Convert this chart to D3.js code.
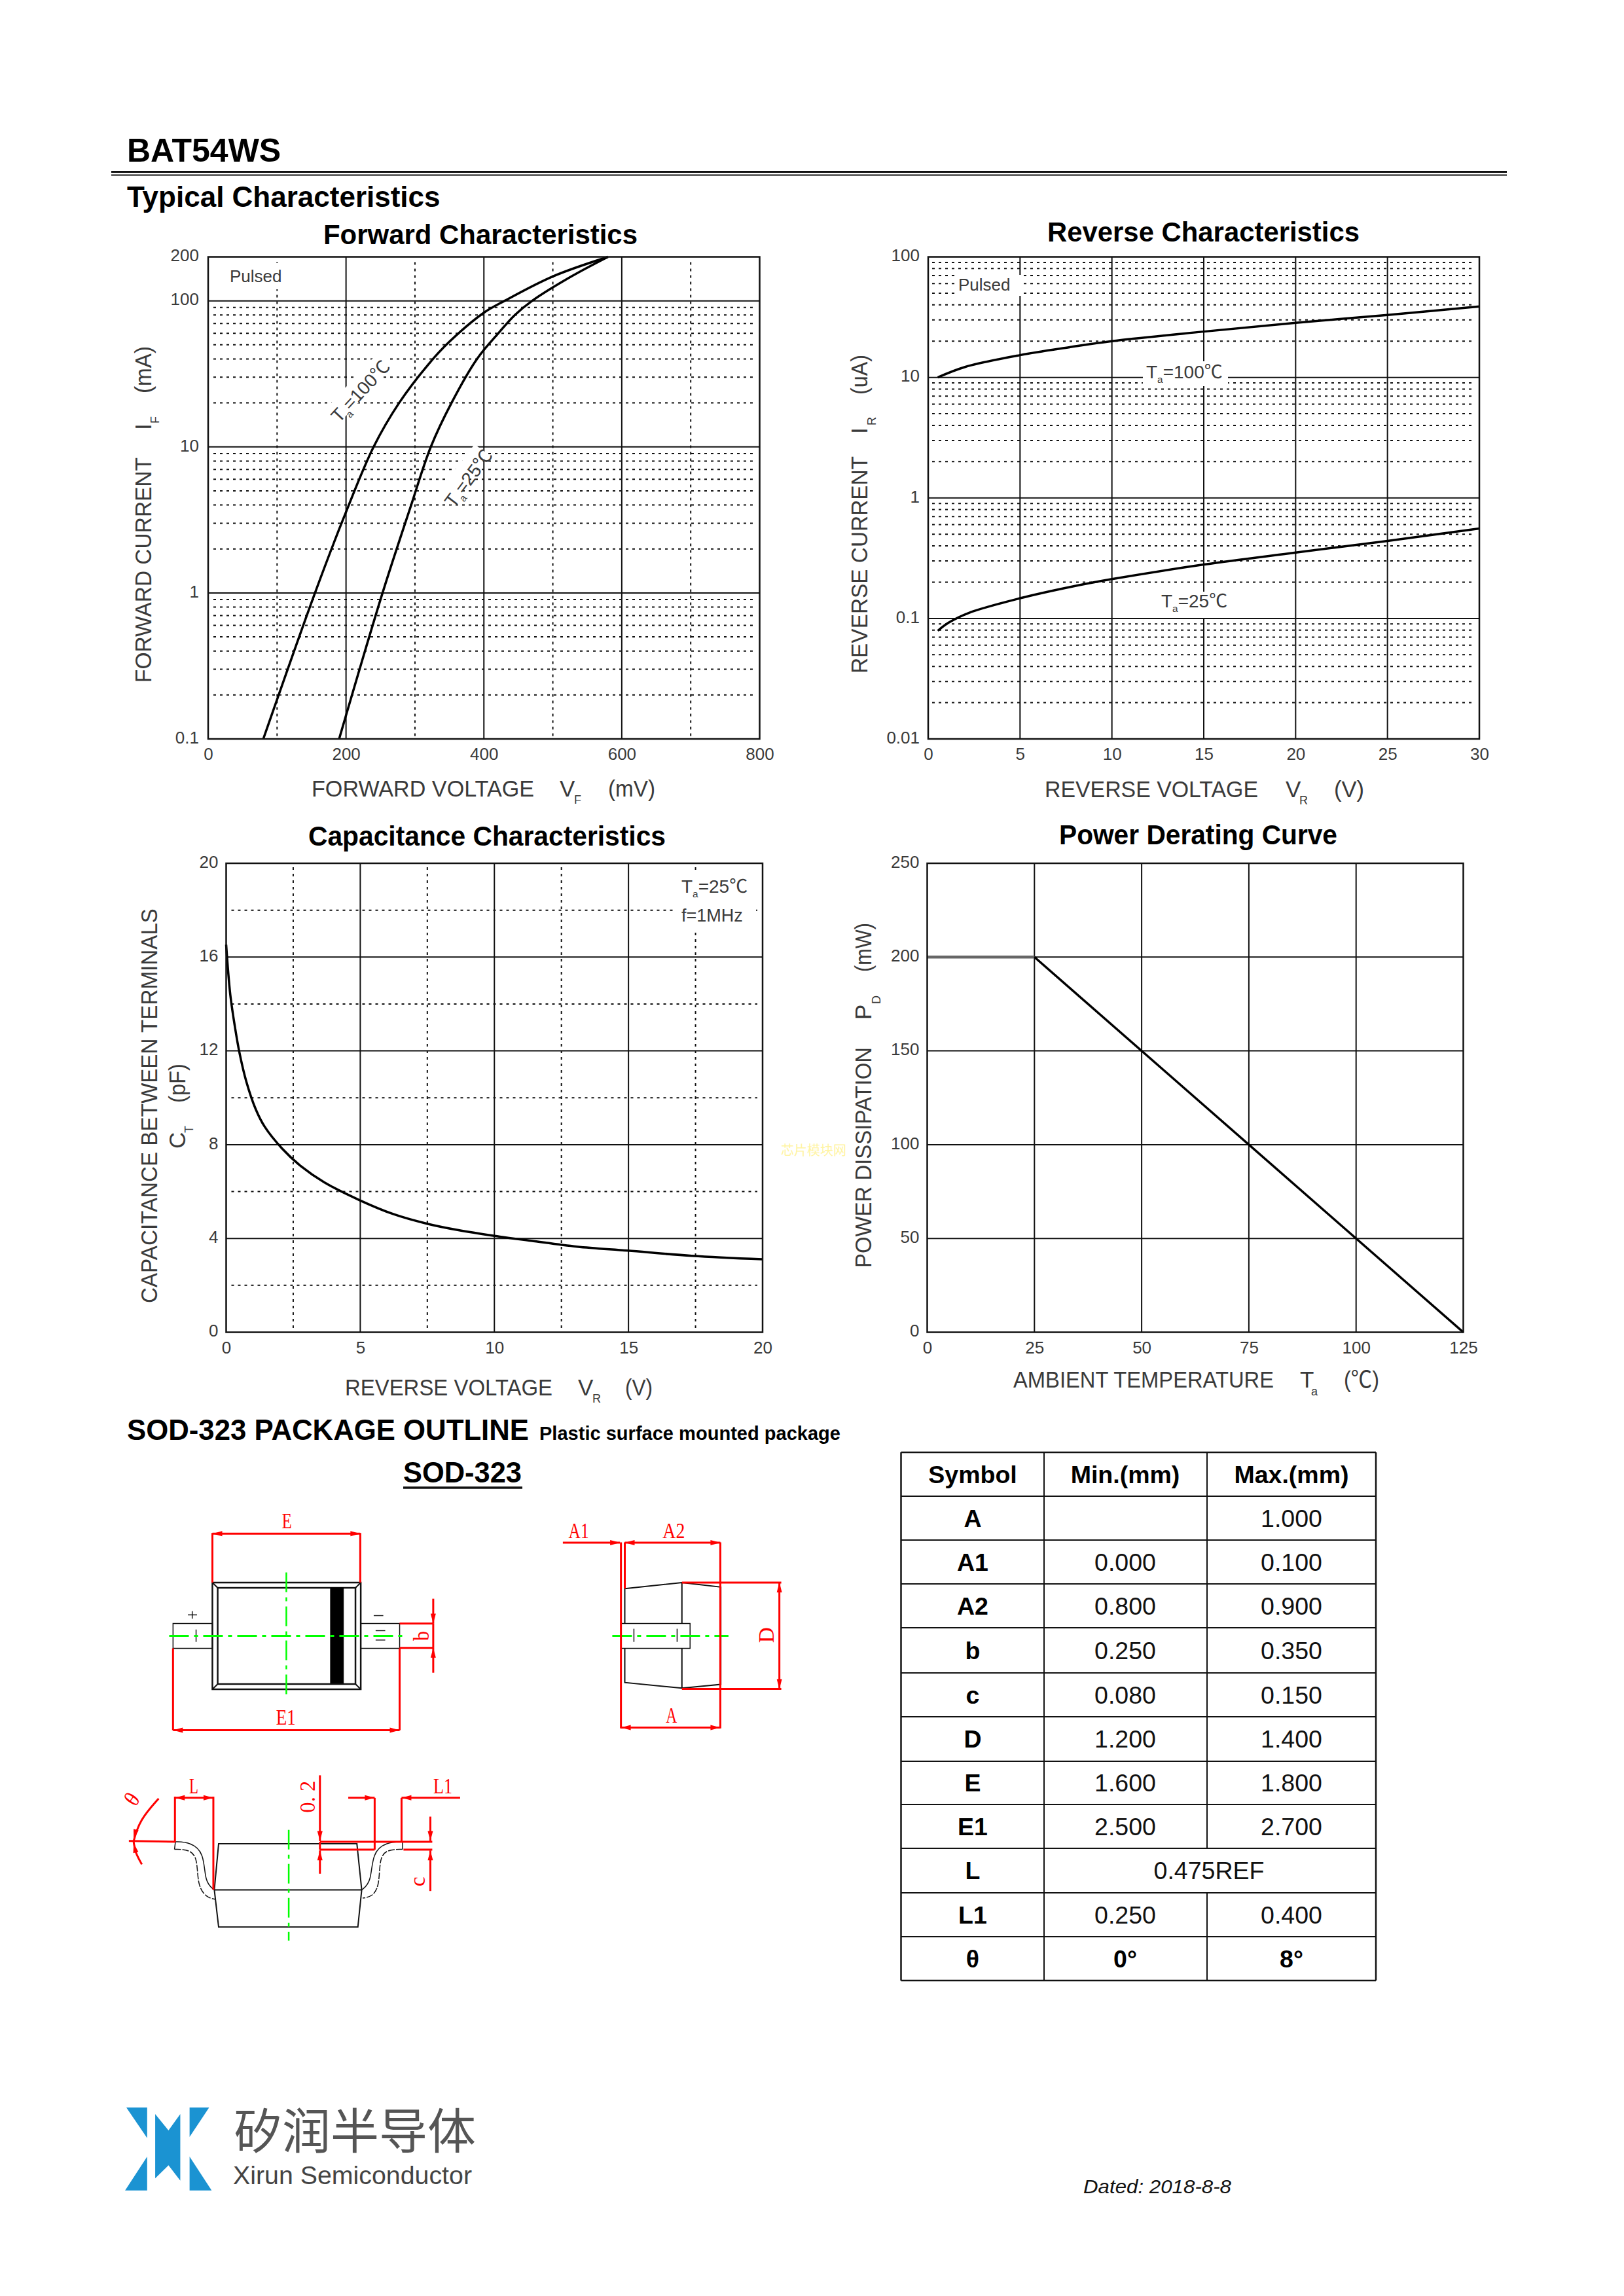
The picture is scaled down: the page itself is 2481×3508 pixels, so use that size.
<!DOCTYPE html>
<html><head><meta charset="utf-8">
<script src="https://cdn.jsdelivr.net/npm/d3@7"></script>
<style>
html,body{margin:0;padding:0;background:#fff}
svg{display:block}
text{font-family:"Liberation Sans","Noto Sans CJK SC",sans-serif}
</style></head><body>
<svg id="page" width="2481" height="3508" viewBox="0 0 2481 3508"></svg>
<script>
// ---------- chart data ----------
const forwardVoltageTicks=[0,200,400,600,800];
const forwardCurrentTicks=[0.1,1,10,100,200];
const forward100V=[80,155,197,240,277,320,350,400,430,500,580];
const forward100I=[0.1,1,3.3,10,20,37,52.5,83,100,147,200];
const forward25V=[190,253,293,323,353,390,421,445,470,527,580];
const forward25I=[0.1,1,3.8,10,20,40,60,80,100,147,200];

const reverseVoltageTicks=[0,5,10,15,20,25,30];
const reverseCurrentTicks=[0.01,0.1,1,10,100];
const reverse100V=[0.52,2,5,7.7,10,15,20,25,30];
const reverse100I=[10,12.2,15.3,17.8,20,24,28.4,33,38.8];
const reverse25V=[0.52,1.1,2.2,5,7.7,10,15,20,25,30];
const reverse25I=[0.079,0.092,0.111,0.147,0.182,0.212,0.28,0.352,0.44,0.558];

const capVoltageTicks=[0,5,10,15,20];
const capTicks=[0,4,8,12,16,20];
const capV=[0,0.154,0.33,0.5,0.75,1.1,1.44,2.09,2.8,3.66,4.98,6.23,7.52,8.63,10,11.37,13.08,14.97,17.36,20];
const capC=[16.53,14.4,13.0,11.9,10.7,9.52,8.76,7.83,7.07,6.39,5.63,5.04,4.62,4.36,4.11,3.9,3.65,3.48,3.26,3.11];

const tempTicks=[0,25,50,75,100,125];
const powerTicks=[0,50,100,150,200,250];
const powerFlatT=[0,25];
const powerFlatP=[200,200];
const powerSlopeT=[25,125];
const powerSlopeP=[200,0];

const tableHeader=["Symbol","Min.(mm)","Max.(mm)"];
const tableSymbols=["A","A1","A2","b","c","D","E","E1","L","L1","θ"];
const tableMin=["","0.000","0.800","0.250","0.080","1.200","1.600","2.500","0.475REF","0.250","0°"];
const tableMax=["1.000","0.100","0.900","0.350","0.150","1.400","1.800","2.700","","0.400","8°"];

// ---------- helpers ----------
const svg=d3.select("#page");
svg.append("rect").attr("width",2481).attr("height",3508).attr("fill","#fff");
const INK="#111", SOFT="#3a3a3a";
function txt(g,s,x,y,size,o={}){
  const t=g.append("text").attr("x",x).attr("y",y).attr("font-size",size)
    .attr("fill",o.fill||INK).attr("text-anchor",o.anchor||"start").text(s);
  if(o.weight)t.attr("font-weight",o.weight);
  if(o.style)t.attr("font-style",o.style);
  if(o.family)t.style("font-family",o.family);
  if(o.rot!==undefined)t.attr("transform",`rotate(${o.rot} ${x} ${y})`);
  if(o.len)t.attr("textLength",o.len).attr("lengthAdjust","spacingAndGlyphs");
  return t;
}
function hline(g,y,x1,x2,w,dash){const l=g.append("line").attr("x1",x1).attr("x2",x2).attr("y1",y).attr("y2",y).attr("stroke",INK).attr("stroke-width",w);if(dash)l.attr("stroke-dasharray",dash);return l;}
function vline(g,x,y1,y2,w,dash){const l=g.append("line").attr("x1",x).attr("x2",x).attr("y1",y1).attr("y2",y2).attr("stroke",INK).attr("stroke-width",w);if(dash)l.attr("stroke-dasharray",dash);return l;}
const DOT="4 6";
function zip(a,b){return a.map((v,i)=>[v,b[i]]);}
function plotCurve(g,x,y,xs,ys,w,color,curve){
  g.append("path").attr("fill","none").attr("stroke",color||"#000").attr("stroke-width",w||3.5)
   .attr("stroke-linejoin","round")
   .attr("d",d3.line().x(d=>x(d[0])).y(d=>y(d[1])).curve(curve||d3.curveCatmullRom.alpha(0.5))(zip(xs,ys)));
}
function axes(g,x,y,xt,yt,box,padL,fmtY){
  const size=26;
  const ax=g.append("g").attr("transform",`translate(0,${box.b})`)
    .call(d3.axisBottom(x).tickValues(xt).tickSize(0).tickPadding(14).tickFormat(d=>String(d)));
  const ay=g.append("g").attr("transform",`translate(${box.l},0)`)
    .call(d3.axisLeft(y).tickValues(yt).tickSize(0).tickPadding(padL).tickFormat(fmtY||(d=>String(d))));
  [ax,ay].forEach(a=>{a.select(".domain").remove();a.selectAll("text").attr("font-size",size).attr("fill",SOFT).style("font-family",'"Liberation Sans",sans-serif');});
  ay.selectAll("text").attr("transform","translate(0,-2)");
}
function frame(g,b,w){g.append("rect").attr("x",b.l).attr("y",b.t).attr("width",b.r-b.l).attr("height",b.b-b.t).attr("fill","none").attr("stroke",INK).attr("stroke-width",w||2.5);}
function mask(g,x,y,w,h,rot){const r=g.append("rect").attr("x",x).attr("y",y).attr("width",w).attr("height",h).attr("fill","#fff");if(rot!==undefined)r.attr("transform",`rotate(${rot} ${x} ${y+h})`);}
function tempLabel(g,x,y,val,size,rot){
  const t=g.append("text").attr("x",x).attr("y",y).attr("font-size",size).attr("fill",SOFT);
  if(rot!==undefined)t.attr("transform",`rotate(${rot} ${x} ${y})`);
  t.append("tspan").text("T");
  t.append("tspan").attr("font-size",size*0.55).attr("dy",size*0.26).text("a");
  t.append("tspan").attr("dy",-size*0.26).text("="+val+"℃");
}
function minorLog(g,y,box,decades,inset){
  decades.forEach(d=>d3.range(2,10).forEach(k=>{hline(g,y(d*k),box.l+inset,box.r-inset,2,DOT);}));
}

// ---------- page headings ----------
txt(svg,"BAT54WS",194,247,50,{weight:"bold",fill:"#000"});
hline(svg,262.5,170,2302,3);hline(svg,267.5,170,2302,2);
txt(svg,"Typical Characteristics",194,316,44,{weight:"bold",fill:"#000"});

// ---------- Forward characteristics ----------
(function(){
  const g=svg.append("g"),b={l:318,r:1160.5,t:392.5,b:1129};
  const x=d3.scaleLinear().domain([0,800]).range([b.l,b.r]);
  const y=d3.scaleLog().domain([0.1,200]).range([b.b,b.t]);
  txt(g,"Forward Characteristics",494,373,42,{weight:"bold",fill:"#000",len:480});
  minorLog(g,y,b,[0.1,1,10],8);
  [100,300,500,700].forEach(v=>vline(g,x(v),b.t+8,b.b,2,DOT));
  [200,400,600].forEach(v=>vline(g,x(v),b.t,b.b,2));
  [1,10,100].forEach(v=>hline(g,y(v),b.l,b.r,2));
  mask(g,345,402,92,40);
  plotCurve(g,x,y,forward100V,forward100I);
  plotCurve(g,x,y,forward25V,forward25I);
  mask(g,513,622,130,30,-47);
  mask(g,688,745,96,26,-53);
  txt(g,"Pulsed",351,431,26,{fill:SOFT});
  tempLabel(g,518,647,"100",28,-47);
  tempLabel(g,693,777,"25",28,-53);
  frame(g,b);
  axes(g,x,y,forwardVoltageTicks,forwardCurrentTicks,b,14);
  txt(g,"FORWARD VOLTAGE",476,1217,35,{fill:SOFT,len:340});
  txt(g,"V",855,1217,35,{fill:SOFT});
  txt(g,"F",877,1228,18,{fill:SOFT});
  txt(g,"(mV)",929,1217,35,{fill:SOFT,len:72});
  txt(g,"FORWARD CURRENT",231,1043,35,{fill:SOFT,rot:-90,len:344});
  txt(g,"I",231,657,35,{fill:SOFT,rot:-90});
  txt(g,"F",243,647,18,{fill:SOFT,rot:-90});
  txt(g,"(mA)",231,601,35,{fill:SOFT,rot:-90,len:72});
})();

// ---------- Reverse characteristics ----------
(function(){
  const g=svg.append("g"),b={l:1418,r:2260,t:392.5,b:1129};
  const x=d3.scaleLinear().domain([0,30]).range([b.l,b.r]);
  const y=d3.scaleLog().domain([0.01,100]).range([b.b,b.t]);
  txt(g,"Reverse Characteristics",1600,368.5,42,{weight:"bold",fill:"#000",len:477});
  minorLog(g,y,b,[0.01,0.1,1,10],6);
  [5,10,15,20,25].forEach(v=>vline(g,x(v),b.t,b.b,2));
  [0.1,1,10].forEach(v=>hline(g,y(v),b.l,b.r,2));
  mask(g,1458,420,102,32);
  mask(g,1746,552,130,38);
  mask(g,1770,904,110,40);
  plotCurve(g,x,y,reverse100V,reverse100I);
  plotCurve(g,x,y,reverse25V,reverse25I);
  txt(g,"Pulsed",1464,444,26,{fill:SOFT});
  tempLabel(g,1751,578,"100",28);
  tempLabel(g,1774,928,"25",28);
  frame(g,b);
  axes(g,x,y,reverseVoltageTicks,reverseCurrentTicks,b,13);
  txt(g,"REVERSE VOLTAGE",1596,1218,35,{fill:SOFT,len:326});
  txt(g,"V",1964,1218,35,{fill:SOFT});
  txt(g,"R",1985,1229,18,{fill:SOFT});
  txt(g,"(V)",2038,1218,35,{fill:SOFT,len:46});
  txt(g,"REVERSE CURRENT",1325,1029,35,{fill:SOFT,rot:-90,len:332});
  txt(g,"I",1325,663,35,{fill:SOFT,rot:-90});
  txt(g,"R",1338,650,18,{fill:SOFT,rot:-90});
  txt(g,"(uA)",1325,603,35,{fill:SOFT,rot:-90,len:61});
})();

// ---------- Capacitance characteristics ----------
(function(){
  const g=svg.append("g"),b={l:345.5,r:1165,t:1319,b:2035.5};
  const x=d3.scaleLinear().domain([0,20]).range([b.l,b.r]);
  const y=d3.scaleLinear().domain([0,20]).range([b.b,b.t]);
  txt(g,"Capacitance Characteristics",471,1291.5,42,{weight:"bold",fill:"#000",len:546});
  [2,6,10,14,18].forEach(v=>hline(g,y(v),b.l+8,b.r-8,2,DOT));
  [2.5,7.5,12.5,17.5].forEach(v=>vline(g,x(v),b.t+6,b.b,2,DOT));
  [5,10,15].forEach(v=>vline(g,x(v),b.t,b.b,2));
  [4,8,12,16].forEach(v=>hline(g,y(v),b.l,b.r,2));
  mask(g,1030,1334,125,88);
  plotCurve(g,x,y,capV,capC);
  tempLabel(g,1041,1364,"25",28);
  txt(g,"f=1MHz",1041,1408,27,{fill:SOFT});
  frame(g,b);
  axes(g,x,y,capVoltageTicks,capTicks,b,12);
  txt(g,"REVERSE VOLTAGE",527,2132,35,{fill:SOFT,len:317});
  txt(g,"V",883,2132,35,{fill:SOFT});
  txt(g,"R",905,2143,18,{fill:SOFT});
  txt(g,"(V)",955,2132,35,{fill:SOFT,len:42});
  txt(g,"CAPACITANCE BETWEEN TERMINALS",240,1991,35,{fill:SOFT,rot:-90,len:603});
  txt(g,"C",283,1755,35,{fill:SOFT,rot:-90});
  txt(g,"T",295,1731,18,{fill:SOFT,rot:-90});
  txt(g,"(pF)",283,1685,35,{fill:SOFT,rot:-90,len:60});
  txt(g,"芯片模块网",1193,1765,20,{fill:"#fff4a3",family:'"Noto Sans CJK SC"'});
})();

// ---------- Power derating ----------
(function(){
  const g=svg.append("g"),b={l:1416.5,r:2235.5,t:1319,b:2035.5};
  const x=d3.scaleLinear().domain([0,125]).range([b.l,b.r]);
  const y=d3.scaleLinear().domain([0,250]).range([b.b,b.t]);
  txt(g,"Power Derating Curve",1618,1290,42,{weight:"bold",fill:"#000",len:425});
  [25,50,75,100].forEach(v=>vline(g,x(v),b.t,b.b,2));
  [50,100,150,200].forEach(v=>hline(g,y(v),b.l,b.r,2));
  plotCurve(g,x,y,powerFlatT,powerFlatP,4.5,"#666",d3.curveLinear);
  plotCurve(g,x,y,powerSlopeT,powerSlopeP,3.5,"#000",d3.curveLinear);
  frame(g,b);
  axes(g,x,y,tempTicks,powerTicks,b,12);
  txt(g,"AMBIENT TEMPERATURE",1548,2120,35,{fill:SOFT,len:398});
  txt(g,"T",1986,2120,35,{fill:SOFT});
  txt(g,"a",2003,2132,18,{fill:SOFT});
  txt(g,"(℃)",2053,2120,35,{fill:SOFT,len:54});
  txt(g,"POWER DISSIPATION",1331,1937,35,{fill:SOFT,rot:-90,len:337});
  txt(g,"P",1331,1558,35,{fill:SOFT,rot:-90});
  txt(g,"D",1345,1534,18,{fill:SOFT,rot:-90});
  txt(g,"(mW)",1331,1485,35,{fill:SOFT,rot:-90,len:75});
})();

// ---------- Package outline headings ----------
txt(svg,"SOD-323 PACKAGE OUTLINE",194,2200,44,{weight:"bold",fill:"#000",len:614});
txt(svg,"Plastic surface mounted package",824,2200,29,{weight:"bold",fill:"#000",len:460});
txt(svg,"SOD-323",616,2265,44,{weight:"bold",fill:"#000",len:181});
hline(svg,2273,616,798,3.5);

// ---------- Package drawing (mechanical figure, not chart data) ----------
(function(){
  const g=svg.append("g");
  const X=d3.scaleLinear().domain([0,1568]).range([180,1330]);
  const Y=d3.scaleLinear().domain([0,1568]).range([2170,3070]);
  const RED="#ff0000",GREEN="#00ff00",BLK="#111";
  const line=d3.line().x(d=>X(d[0])).y(d=>Y(d[1]));
  function pl(pts,c,w,o={}){const p=g.append("path").attr("d",(o.curve?line.curve(o.curve):line.curve(d3.curveLinear))(pts)+(o.close?"Z":"")).attr("fill",o.fill||"none").attr("stroke",c).attr("stroke-width",w);if(o.dash)p.attr("stroke-dasharray",o.dash);line.curve(d3.curveLinear);return p;}
  function rc(x1,y1,x2,y2,c,w,fill){pl([[x1,y1],[x2,y1],[x2,y2],[x1,y2]],c,w,{close:true,fill:fill||"none"});}
  function head(x1,y1,x2,y2){
    const ax=X(x1),ay=Y(y1),bx=X(x2),by=Y(y2),len=Math.hypot(bx-ax,by-ay)||1,ux=(bx-ax)/len,uy=(by-ay)/len,h=15,s=4;
    g.append("polygon").attr("fill",RED).attr("points",[[bx,by],[bx-ux*h-uy*s,by-uy*h+ux*s],[bx-ux*h+uy*s,by-uy*h-ux*s]].join(" "));
  }
  function arrow(x1,y1,x2,y2,w){pl([[x1,y1],[x2,y2]],RED,w||3);head(x1,y1,x2,y2);}
  function both(x1,y1,x2,y2){pl([[x1,y1],[x2,y2]],RED,3);head(x1,y1,x2,y2);head(x2,y2,x1,y1);}
  function red(s,zx,zy,rot,len){const o={anchor:"middle",fill:RED,family:'"Liberation Serif",serif',len:len||15*s.length};if(rot!==undefined)o.rot=rot;txt(g,s,X(zx),Y(zy),34,o);}
  const DD="30 8 6 8";

  // top view
  rc(197,432,506,716,BLK,2.5);rc(208,446,495,702,BLK,2.5);
  [[197,432,208,446],[506,432,495,446],[197,716,208,702],[506,716,495,702]].forEach(d=>pl([[d[0],d[1]],[d[2],d[3]]],BLK,2));
  rc(443,446,470,700,"#000",1,"#000");
  rc(115,541,197,607,BLK,1.5);rc(506,541,587,607,BLK,1.5);
  pl([[163,557],[163,590]],BLK,1.5);pl([[537,560],[557,560]],BLK,1.5);pl([[537,585],[557,585]],BLK,1.5);
  pl([[146,518],[165,518]],BLK,1.5);pl([[155,508],[155,528]],BLK,1.5);pl([[533,520],[553,520]],BLK,1.5);
  pl([[107,574],[595,574]],GREEN,3,{dash:DD});pl([[351,405],[351,735]],GREEN,2.5,{dash:DD});
  pl([[197,300],[197,432]],RED,3);pl([[505,300],[505,432]],RED,3);both(197,302,505,302);red("E",352,288);
  pl([[115,607],[115,825]],RED,3);pl([[587,607],[587,825]],RED,3);both(115,825,587,825);red("E1",350,810);
  pl([[587,541],[658,541]],RED,3);pl([[587,606],[658,606]],RED,3);pl([[657,541],[657,606]],RED,3);
  arrow(657,475,657,541);arrow(657,672,657,606);red("b",648,574,-90);

  // side view
  pl([[1056,448],[1175,432],[1256,444],[1256,703],[1175,713],[1056,698]],BLK,2,{close:true});
  pl([[1175,432],[1175,713]],BLK,2);
  rc(1048,541,1192,607,BLK,1.5,"#fff");
  pl([[1075,555],[1075,590]],BLK,1.5);pl([[1165,555],[1165,590]],BLK,1.5);
  pl([[1030,574],[1272,574]],GREEN,3,{dash:DD});
  pl([[1048,325],[1048,820]],RED,3);pl([[1056,325],[1056,448]],RED,3);pl([[1255,325],[1255,820]],RED,3);
  arrow(927,326,1046,326);both(1056,326,1255,326);red("A1",960,313,undefined,31);red("A2",1158,313,undefined,34);
  pl([[1175,432],[1382,432]],RED,3);pl([[1175,715],[1382,715]],RED,3);both(1378,432,1378,715);red("D",1366,572,-90,24);
  both(1048,818,1255,818);red("A",1153,805,undefined,17);

  // bottom view
  pl([[210,1127],[498,1127],[508,1250],[500,1349],[210,1349],[201,1250]],BLK,2,{close:true});
  pl([[201,1250],[508,1250]],BLK,2);
  const cv=d3.curveBasis;
  pl([[120,1122],[150,1123],[180,1150],[181,1230],[201,1250]],BLK,1.5,{curve:cv});
  pl([[118,1142],[150,1143],[166,1165],[166,1240],[185,1270],[202,1275]],BLK,1.5,{curve:cv,dash:"10 2"});
  pl([[593,1122],[560,1123],[530,1150],[528,1230],[508,1250]],BLK,1.5,{curve:cv});
  pl([[593,1142],[560,1143],[545,1165],[545,1240],[530,1268],[510,1272]],BLK,1.5,{curve:cv,dash:"10 2"});
  pl([[120,1122],[118,1142]],BLK,1.5);pl([[593,1122],[593,1142]],BLK,1.5);
  pl([[356,1090],[356,1385]],GREEN,2.5,{dash:DD});
  pl([[119,1002],[119,1122]],RED,3);pl([[199,1002],[199,1250]],RED,3);both(119,1005,199,1005);red("L",158,993,undefined,14);
  pl([[535,1005],[535,1143]],RED,3);pl([[591,1005],[591,1122]],RED,3);
  arrow(480,1005,535,1005);arrow(713,1005,591,1005);red("L1",677,993,undefined,29);
  arrow(421,945,421,1120);arrow(421,1207,421,1145);pl([[421,1122],[421,1143]],RED,3);
  pl([[421,1122],[655,1122]],RED,3);pl([[421,1143],[535,1143]],RED,3);pl([[595,1143],[655,1143]],RED,3);
  red("0. 2",410,1002,-90,49);
  arrow(651,1055,651,1120);arrow(651,1253,651,1145);red("c",640,1228,-90);
  pl([[23,1120],[120,1122]],RED,3);
  pl([[85,1007],[45,1065],[33,1120]],RED,3,{curve:d3.curveBasis});head(40,1080,33,1115);
  pl([[33,1122],[36,1150],[50,1182]],RED,3,{curve:d3.curveBasis});head(40,1165,33,1125);
  red("θ",42,1020,-55);
})();

// ---------- Dimension table ----------
(function(){
  const g=svg.append("g");
  const colX=[1376.5,1595,1844,2102];
  const rowY=[2219,2286,2353,2420,2487,2556,2623,2691,2757,2824,2892,2959,3026];
  const centers=[1486,1719,1973];
  colX.forEach((x,i)=>{
    if(i===2){vline(g,x,rowY[0],rowY[9],2);vline(g,x,rowY[10],rowY[12],2);}
    else vline(g,x,rowY[0],rowY[12],i===0||i===3?2.5:2);
  });
  rowY.forEach((y,i)=>hline(g,y,colX[0],colX[3],i===0||i===12?2.5:2));
  const mid=i=>(rowY[i]+rowY[i+1])/2+13;
  tableHeader.forEach((s,i)=>txt(g,s,centers[i],mid(0),37.5,{anchor:"middle",weight:"bold",fill:"#000"}));
  tableSymbols.forEach((s,i)=>{
    const r=i+1,isAngle=s==="θ";
    txt(g,s,centers[0],mid(r),37.5,{anchor:"middle",weight:"bold",fill:"#000"});
    const o=isAngle?{anchor:"middle",weight:"bold",fill:"#000"}:{anchor:"middle",fill:"#111"};
    if(tableMin[i]&&!tableMax[i]){txt(g,tableMin[i],1847,mid(r),37.5,o);return;}
    if(tableMin[i])txt(g,tableMin[i],centers[1],mid(r),37.5,o);
    if(tableMax[i])txt(g,tableMax[i],centers[2],mid(r),37.5,o);
  });
})();

// ---------- Logo and footer ----------
(function(){
  const g=svg.append("g");
  const X=d3.scaleLinear().domain([0,600]).range([170,400]);
  const Y=d3.scaleLinear().domain([0,600]).range([3200,3400]);
  const shapes=[
    [[60,60],[143,60],[143,200]],
    [[143,285],[143,440],[55,440]],
    [[312,60],[390,60],[312,195]],
    [[312,285],[400,440],[312,440]],
    [[175,90],[228,165],[275,90],[275,395],[228,325],[175,385]]
  ];
  g.selectAll("polygon").data(shapes).join("polygon").attr("fill","#1b93d2")
    .attr("points",d=>d.map(p=>[X(p[0]),Y(p[1])].join(",")).join(" "));
  txt(g,"矽润半导体",357,3283,74,{fill:"#555",family:'"Noto Sans CJK SC"',len:370});
  txt(g,"Xirun Semiconductor",356,3337,39,{fill:"#444",len:365});
  txt(svg,"Dated: 2018-8-8",1655,3351,30,{style:"italic",fill:"#111",len:226});
})();
</script>
</body></html>
